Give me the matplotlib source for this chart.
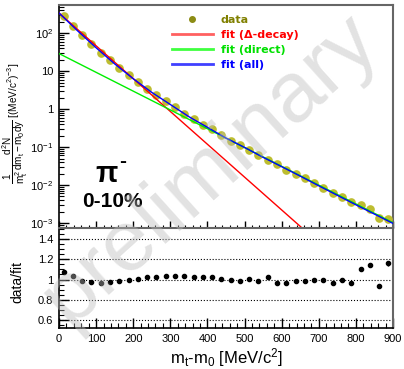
import numpy as np
import matplotlib
matplotlib.use("Agg")
import matplotlib.pyplot as plt
from matplotlib.ticker import MultipleLocator, FuncFormatter, LogLocator, NullFormatter
from matplotlib.lines import Line2D

plt.rcParams['font.family'] = ['Liberation Sans', 'DejaVu Sans']
plt.rcParams['mathtext.fontset'] = 'custom'
plt.rcParams['mathtext.rm'] = 'Liberation Sans'
plt.rcParams['mathtext.it'] = 'Liberation Sans'
plt.rcParams['mathtext.bf'] = 'Liberation Sans:bold'

# spektrum (środki binów mt-m0, 25 MeV)
mt = np.arange(12.5, 900, 25.0)
yields = [280, 156, 88.5, 52.6, 30.5, 19.2, 12.0, 7.74, 5.16, 3.46, 2.31, 1.60,
          1.14, 0.762, 0.54, 0.392, 0.295, 0.205, 0.145, 0.114, 0.0843, 0.0623,
          0.0467, 0.0348, 0.0251, 0.0197, 0.0149, 0.0110, 0.00831, 0.00603,
          0.00473, 0.00356, 0.00297, 0.00229, 0.00135, 0.00130]

# stosunek data/fit
ratio = [1.07, 1.03, 0.99, 0.98, 0.97, 0.98, 0.99, 1.00, 1.01, 1.02, 1.02, 1.03,
         1.03, 1.03, 1.02, 1.02, 1.02, 1.01, 1.00, 0.99, 1.01, 0.99, 1.02, 0.97,
         0.97, 0.99, 0.99, 1.00, 1.00, 0.97, 1.00, 0.97, 1.10, 1.14, 0.94, 1.16]
ratio_err = [0.006] * 32 + [0.02, 0.02, 0.02, 0.025]

# krzywe fitu
fit_all_x = np.arange(0, 901, 50)
fit_all_y = [339, 115, 41.2, 15.5, 6.31, 2.75, 1.32, 0.631, 0.331, 0.172,
             0.0977, 0.0537, 0.0305, 0.0172, 0.00955, 0.00537, 0.00302,
             0.00172, 0.000977]
fit_delta_x = [0, 660]
fit_delta_y = [339, 6.7e-4]
fit_dir_x = [0, 900]
fit_dir_y = [29, 1.02e-3]

W, H = 404, 369
fig = plt.figure(figsize=(W / 100, H / 100), dpi=100)
ax1 = fig.add_axes([59 / W, 1 - 228 / H, 334 / W, 223 / H])
ax2 = fig.add_axes([59 / W, 1 - 328 / H, 334 / W, 100 / H])

ax1.plot(mt, yields, 'o', color='#bdbd30', ms=5.2, zorder=3)
ax1.plot(fit_delta_x, fit_delta_y, color='red', lw=1, zorder=4)
ax1.plot(fit_dir_x, fit_dir_y, color='#00ee00', lw=1, zorder=4)
ax1.plot(fit_all_x, fit_all_y, color='blue', lw=1, zorder=5)
ax1.set_yscale('log')
ax1.set_xlim(0, 900)
ax1.set_ylim(7.4e-4, 550)


def log_fmt(v, pos):
    e = int(round(np.log10(v)))
    if e == 0:
        return '1'
    if e == 1:
        return '10'
    return r'$10^{%d}$' % e


ax1.yaxis.set_major_locator(LogLocator(base=10, numticks=20))
ax1.yaxis.set_minor_locator(LogLocator(base=10, subs=np.arange(2, 10), numticks=20))
ax1.yaxis.set_major_formatter(FuncFormatter(log_fmt))
ax1.yaxis.set_minor_formatter(NullFormatter())
ax1.xaxis.set_major_locator(MultipleLocator(100))
ax1.xaxis.set_minor_locator(MultipleLocator(20))
ax1.tick_params(axis='x', labelbottom=False)
ax1.set_ylabel(r'$\dfrac{1}{m_{t}^{2}}\dfrac{d^{2}N}{dm_{t}-m_{0}dy}$ [(MeV/c$^{2}$)$^{-3}$]',
               fontsize=7.2)
ax1.yaxis.set_label_coords(-0.088, 0.47)

handles = [Line2D([], [], marker='o', ls='none', color='#8c8c14', ms=4),
           Line2D([], [], color='#ff6060', lw=2),
           Line2D([], [], color='#40ff40', lw=2),
           Line2D([], [], color='#4040ff', lw=2)]
labels = ['data', 'fit (\u0394-decay)', 'fit (direct)', 'fit (all)']
leg = ax1.legend(handles, labels, loc='upper left', bbox_to_anchor=(0.338, 0.955),
                 frameon=False, borderpad=0, borderaxespad=0, handlelength=3.7,
                 handletextpad=0.7, labelspacing=0.45,
                 prop={'family': 'DejaVu Sans', 'weight': 'bold', 'size': 8})
for t, c in zip(leg.get_texts(), ['#808000', 'red', '#00e000', 'blue']):
    t.set_color(c)

ax1.text(0.108, 0.206, '\u03c0', transform=ax1.transAxes, fontsize=21,
         fontweight='bold', ha='left', va='baseline')
ax1.text(0.19, 0.30, '-', transform=ax1.transAxes, fontsize=15,
         fontweight='bold', ha='center', va='center')
ax1.text(0.069, 0.094, '0-10%', transform=ax1.transAxes, fontsize=15,
         fontweight='bold', ha='left', va='baseline')

ax2.errorbar(mt, ratio, yerr=ratio_err, fmt='o', color='black', ms=3,
             elinewidth=1, capsize=0)
ax2.set_xlim(0, 900)
ax2.set_ylim(0.52, 1.51)
for g in [0.6, 0.8, 1.0, 1.2, 1.4]:
    ax2.axhline(g, color='black', ls=':', lw=0.8, zorder=0)
ax2.yaxis.set_major_locator(MultipleLocator(0.2))
ax2.yaxis.set_minor_locator(MultipleLocator(0.05))
ax2.yaxis.set_major_formatter(FuncFormatter(lambda v, p: '%g' % round(v, 1)))
ax2.xaxis.set_major_locator(MultipleLocator(100))
ax2.xaxis.set_minor_locator(MultipleLocator(20))
ax2.set_ylabel('data/fit', fontsize=10)
ax2.yaxis.set_label_coords(-0.105, 0.46)
ax2.set_xlabel(r'm$_{t}$-m$_{0}$ [MeV/c$^{2}$]', fontsize=12, labelpad=2)

for ax in (ax1, ax2):
    ax.tick_params(which='both', direction='in', top=False, right=False,
                   labelsize=8, pad=4)
    ax.tick_params(which='major', length=7, width=1)
    ax.tick_params(which='minor', length=3.5, width=0.8)
    ax.spines['left'].set_linewidth(1.2)
    ax.spines['bottom'].set_linewidth(1.2)
    ax.spines['top'].set_color('#666666')
    ax.spines['right'].set_color('#666666')
    ax.spines['top'].set_linewidth(1.5)
    ax.spines['right'].set_linewidth(1.5)
ax1.tick_params(axis='x', which='major', length=5)
ax1.tick_params(axis='x', which='minor', length=2.5)

fig.text(0.52, 0.54, 'preliminary', fontsize=62, color='#bbbbbb', alpha=0.42,
         rotation=42, ha='center', va='center', zorder=10)

fig.savefig('out.png', dpi=100)
